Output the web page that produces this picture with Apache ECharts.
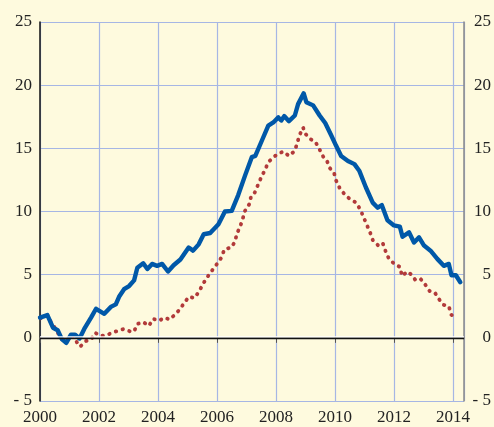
<!DOCTYPE html>
<html>
<head>
<meta charset="utf-8">
<title>chart</title>
<script src="https://cdn.jsdelivr.net/npm/echarts@6/dist/echarts.min.js"></script>
<style>
  html, body { margin: 0; padding: 0; background: #fefade; }
  #main { width: 494px; height: 427px; }
</style>
</head>
<body>
<div id="main"></div>
<script>
// 数据: [年份, 数值]
const blueLine = [
  [2000.0, 1.6], [2000.25, 1.8], [2000.44, 0.8], [2000.6, 0.6], [2000.74, -0.1],
  [2000.89, -0.4], [2001.05, 0.25], [2001.19, 0.25], [2001.34, -0.05], [2001.5, 0.7],
  [2001.73, 1.6], [2001.9, 2.3], [2002.18, 1.9], [2002.4, 2.45], [2002.57, 2.65],
  [2002.68, 3.25], [2002.85, 3.85], [2003.02, 4.1], [2003.19, 4.55], [2003.3, 5.55],
  [2003.5, 5.9], [2003.64, 5.45], [2003.8, 5.85], [2003.97, 5.7], [2004.14, 5.85],
  [2004.34, 5.25], [2004.53, 5.75], [2004.76, 6.2], [2005.04, 7.15], [2005.19, 6.9],
  [2005.38, 7.4], [2005.55, 8.2], [2005.77, 8.3], [2006.05, 9.0], [2006.27, 10.0],
  [2006.5, 10.05], [2006.72, 11.3], [2006.96, 12.9], [2007.18, 14.3], [2007.3, 14.4],
  [2007.52, 15.6], [2007.74, 16.8], [2007.91, 17.05], [2008.08, 17.45], [2008.18, 17.2],
  [2008.28, 17.55], [2008.44, 17.15], [2008.64, 17.6], [2008.75, 18.5], [2008.94, 19.35],
  [2009.03, 18.65], [2009.26, 18.4], [2009.48, 17.6], [2009.67, 17.0], [2009.88, 16.0],
  [2010.04, 15.2], [2010.21, 14.4], [2010.44, 14.0], [2010.66, 13.75], [2010.83, 13.2],
  [2011.05, 11.9], [2011.28, 10.7], [2011.45, 10.3], [2011.59, 10.5], [2011.78, 9.3],
  [2012.0, 8.9], [2012.2, 8.8], [2012.29, 8.0], [2012.51, 8.35], [2012.68, 7.55],
  [2012.85, 7.95], [2013.02, 7.3], [2013.24, 6.9], [2013.47, 6.25], [2013.69, 5.7],
  [2013.86, 5.85], [2013.95, 4.95], [2014.1, 4.95], [2014.25, 4.4]
];
const redLine = [
  [2000.02, 1.55], [2000.25, 1.8], [2000.38, 1.2], [2000.52, 0.75], [2000.64, 0.25],
  [2000.8, -0.25], [2000.94, -0.15], [2001.11, 0.2], [2001.25, -0.35], [2001.36, -0.7],
  [2001.56, -0.25], [2001.73, -0.15], [2001.87, 0.4], [2002.06, 0.15], [2002.27, 0.2],
  [2002.46, 0.45], [2002.66, 0.55], [2002.83, 0.7], [2003.07, 0.5], [2003.19, 0.5],
  [2003.3, 1.1], [2003.5, 1.25], [2003.69, 0.95], [2003.84, 1.5], [2004.03, 1.35],
  [2004.23, 1.6], [2004.39, 1.45], [2004.56, 1.8], [2004.74, 2.25], [2004.9, 2.8],
  [2005.05, 3.25], [2005.23, 3.15], [2005.39, 3.65], [2005.52, 4.25], [2005.67, 4.8],
  [2005.84, 5.35], [2006.0, 5.85], [2006.15, 6.35], [2006.25, 7.0], [2006.48, 7.15],
  [2006.61, 7.6], [2006.67, 8.2], [2006.8, 8.9], [2006.87, 9.4], [2006.95, 10.05],
  [2007.1, 10.6], [2007.16, 11.25], [2007.28, 11.5], [2007.39, 12.1], [2007.5, 12.7],
  [2007.63, 13.3], [2007.74, 13.9], [2007.91, 14.3], [2008.1, 14.6], [2008.25, 14.75],
  [2008.44, 14.4], [2008.64, 14.8], [2008.73, 15.5], [2008.81, 16.1], [2008.92, 16.65],
  [2008.98, 16.2], [2009.15, 15.75], [2009.34, 15.5], [2009.48, 14.9], [2009.6, 14.35],
  [2009.73, 14.0], [2009.82, 13.45], [2009.97, 13.05], [2010.04, 12.45], [2010.16, 11.85],
  [2010.33, 11.35], [2010.5, 11.0], [2010.72, 10.7], [2010.86, 10.15], [2010.97, 9.55],
  [2011.08, 8.95], [2011.19, 8.35], [2011.28, 7.75], [2011.47, 7.3], [2011.62, 7.5],
  [2011.71, 6.9], [2011.82, 6.3], [2012.01, 5.85], [2012.21, 5.6], [2012.27, 4.9],
  [2012.46, 5.25], [2012.59, 5.0], [2012.72, 4.6], [2012.89, 4.7], [2013.05, 4.25],
  [2013.21, 3.7], [2013.38, 3.6], [2013.53, 3.05], [2013.69, 2.6], [2013.86, 2.5],
  [2013.95, 1.8], [2014.14, 1.75]
];
// 坐标轴范围
const xMin = 2000, xMax = 2014.375, xStep = 2;
const yMin = -5, yMax = 25, yStep = 5;

const font = 'Liberation Serif, Times New Roman, serif';
const gridColor = '#a6b6e4';

// y轴标签格式: 负号后加空格
const yLabel = (v) => (v < 0 ? '- ' + Math.abs(v) : String(v));

const chart = echarts.init(document.getElementById('main'));
chart.setOption({
  backgroundColor: '#fefade',
  animation: false,
  grid: { left: 40, right: 27, top: 22, bottom: 26 },
  xAxis: {
    type: 'value',
    min: xMin,
    max: xMax,
    interval: xStep,
    axisLine: { show: true, lineStyle: { color: '#7a7a7a', width: 1.5 } },
    axisTick: { show: true, length: 5, lineStyle: { color: '#555' } },
    axisLabel: {
      margin: 8,
      color: '#222',
      fontFamily: font,
      fontSize: 17,
      showMaxLabel: false,
      formatter: (v) => (v % 2 === 0 ? String(v) : '')
    },
    splitLine: { show: true, lineStyle: { color: gridColor, width: 1.2 } }
  },
  yAxis: [{
    type: 'value',
    min: yMin,
    max: yMax,
    interval: yStep,
    position: 'left',
    axisLine: { show: true, lineStyle: { color: '#111', width: 1.5 } },
    axisTick: { show: false },
    axisLabel: { margin: 8, color: '#222', fontFamily: font, fontSize: 17, formatter: yLabel },
    splitLine: { show: true, lineStyle: { color: gridColor, width: 1.2 } }
  }, {
    type: 'value',
    min: yMin,
    max: yMax,
    interval: yStep,
    position: 'right',
    axisLine: { show: true, lineStyle: { color: '#8a8a8a', width: 1.5 } },
    axisTick: { show: false },
    axisLabel: {
      margin: 27, align: 'right', color: '#222', fontFamily: font, fontSize: 17, formatter: yLabel
    },
    splitLine: { show: false }
  }],
  series: [{
    name: 'red',
    type: 'line',
    data: redLine,
    showSymbol: false,
    smooth: false,
    lineStyle: { color: '#b23a3a', width: 3.8, type: [0.5, 6.6], cap: 'round' },
    // 零线（黑线上方白边）
    markLine: {
      silent: true,
      symbol: 'none',
      label: { show: false },
      data: [{ yAxis: 0 }],
      lineStyle: {
        color: '#111', width: 1.3, type: 'solid',
        shadowColor: '#ffffff', shadowBlur: 0, shadowOffsetY: -1.6
      }
    }
  }, {
    name: 'blue',
    type: 'line',
    data: blueLine,
    showSymbol: false,
    smooth: false,
    lineStyle: { color: '#0058a8', width: 4.4, join: 'round', cap: 'round' }
  }]
});
</script>
</body>
</html>
